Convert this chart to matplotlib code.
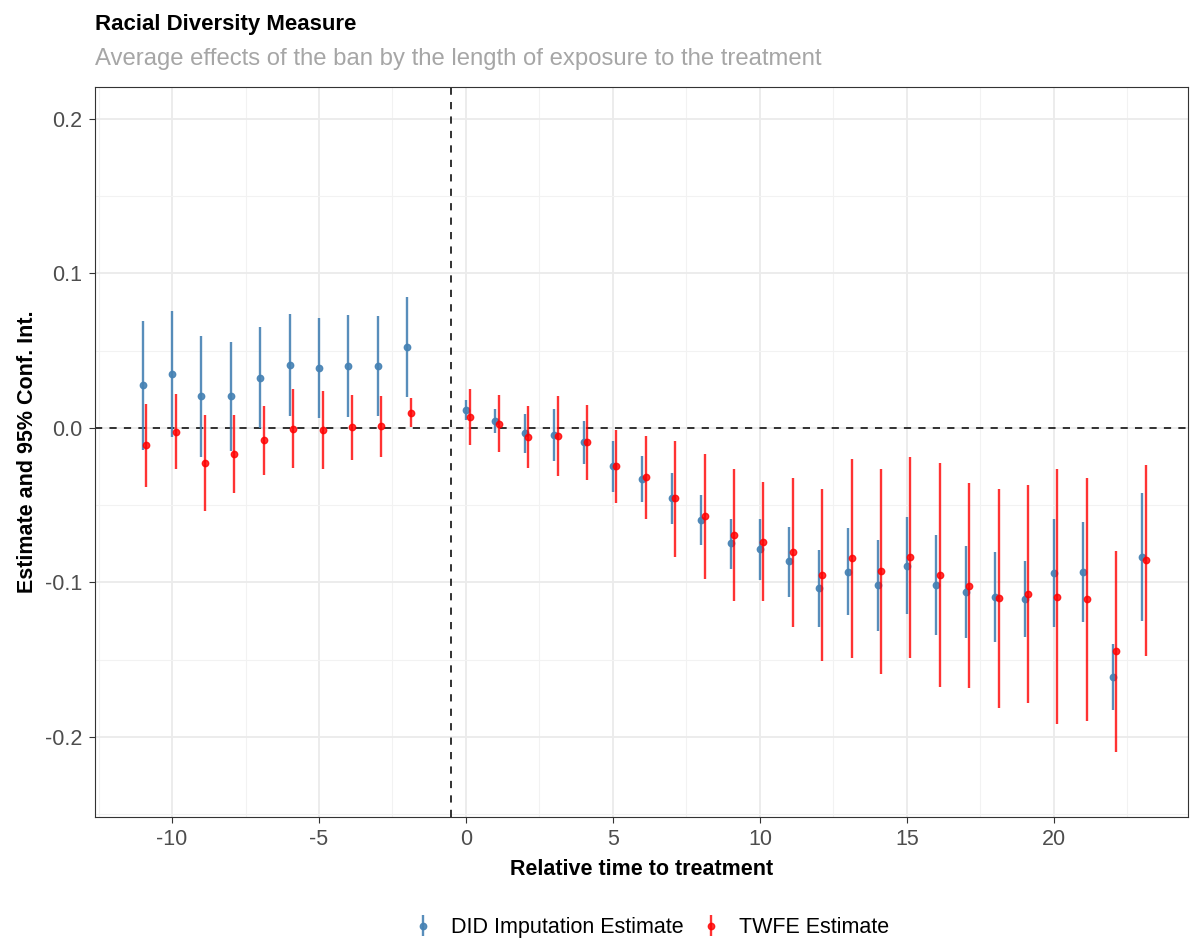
import matplotlib.pyplot as plt
from matplotlib.ticker import FixedLocator, FuncFormatter

plt.rcParams["font.family"] = ["Liberation Sans", "DejaVu Sans"]

rel_time = [-11, -10, -9, -8, -7, -6, -5, -4, -3, -2,
            0, 1, 2, 3, 4, 5, 6, 7, 8, 9, 10, 11,
            12, 13, 14, 15, 16, 17, 18, 19, 20, 21, 22, 23]

# DID imputation estimate
did_est = [0.0276, 0.0350, 0.0207, 0.0207, 0.0326, 0.0408, 0.0388, 0.0401, 0.0401, 0.0526,
           0.0117, 0.0047, -0.0034, -0.0047, -0.0093, -0.0248, -0.0328, -0.0455, -0.0598,
           -0.0747, -0.0785, -0.0863, -0.1038, -0.0930, -0.1016, -0.0891, -0.1016, -0.1059,
           -0.1092, -0.1105, -0.0936, -0.0932, -0.1612, -0.0835]
did_hi = [0.0695, 0.0759, 0.0595, 0.0557, 0.0656, 0.0736, 0.0712, 0.0731, 0.0725, 0.0850,
          0.0181, 0.0121, 0.0089, 0.0121, 0.0047, -0.0082, -0.0183, -0.0289, -0.0436,
          -0.0587, -0.0587, -0.0639, -0.0790, -0.0649, -0.0725, -0.0578, -0.0693, -0.0762,
          -0.0800, -0.0861, -0.0591, -0.0610, -0.1398, -0.0419]
did_lo = [-0.0142, -0.0060, -0.0186, -0.0147, -0.0002, 0.0078, 0.0063, 0.0073, 0.0078, 0.0203,
          0.0052, -0.0030, -0.0160, -0.0212, -0.0235, -0.0416, -0.0477, -0.0624, -0.0757,
          -0.0913, -0.0984, -0.1092, -0.1290, -0.1210, -0.1312, -0.1204, -0.1340, -0.1361,
          -0.1383, -0.1353, -0.1286, -0.1256, -0.1825, -0.1251]

# TWFE estimate
twfe_est = [-0.0112, -0.0024, -0.0229, -0.0168, -0.0080, -0.0004, -0.0010, 0.0006, 0.0011, 0.0099,
            0.0071, 0.0028, -0.0058, -0.0052, -0.0093, -0.0248, -0.0319, -0.0455, -0.0570,
            -0.0690, -0.0736, -0.0803, -0.0951, -0.0843, -0.0928, -0.0837, -0.0951, -0.1021,
            -0.1102, -0.1073, -0.1092, -0.1109, -0.1443, -0.0857]
twfe_hi = [0.0155, 0.0218, 0.0084, 0.0084, 0.0142, 0.0250, 0.0241, 0.0214, 0.0207, 0.0192,
           0.0250, 0.0214, 0.0142, 0.0207, 0.0151, -0.0013, -0.0052, -0.0086, -0.0170,
           -0.0263, -0.0352, -0.0321, -0.0395, -0.0203, -0.0265, -0.0190, -0.0224, -0.0354,
           -0.0397, -0.0369, -0.0265, -0.0326, -0.0796, -0.0239]
twfe_lo = [-0.0380, -0.0265, -0.0537, -0.0419, -0.0302, -0.0261, -0.0265, -0.0207, -0.0186, 0.0009,
           -0.0110, -0.0155, -0.0259, -0.0311, -0.0337, -0.0483, -0.0591, -0.0833, -0.0975,
           -0.1120, -0.1120, -0.1286, -0.1510, -0.1490, -0.1592, -0.1489, -0.1674, -0.1683,
           -0.1812, -0.1778, -0.1916, -0.1894, -0.2095, -0.1476]

dodge = 0.12

fig = plt.figure(figsize=(11.92, 9.39), dpi=100)
ax = fig.add_axes([0.0797, 0.13, 0.9169, 0.7773])

did_err = [[e - l for e, l in zip(did_est, did_lo)], [h - e for e, h in zip(did_est, did_hi)]]
twfe_err = [[e - l for e, l in zip(twfe_est, twfe_lo)], [h - e for e, h in zip(twfe_est, twfe_hi)]]

h1 = ax.errorbar(rel_time, did_est, yerr=did_err, fmt="o", color="steelblue",
                 ecolor="steelblue", elinewidth=1.7, markersize=4.6, capsize=0,
                 alpha=0.9, zorder=3, label="DID Imputation Estimate")
h2 = ax.errorbar([t + dodge for t in rel_time], twfe_est, yerr=twfe_err, fmt="o",
                 color="#ff0000", ecolor="#ff0000", elinewidth=1.7, markersize=4.6,
                 capsize=0, alpha=0.8, zorder=4, label="TWFE Estimate")

ax.axhline(0, color="#222222", linestyle=(0, (4, 4)), linewidth=1.3, zorder=2)
ax.axvline(-0.5, color="#222222", linestyle=(0, (4, 4)), linewidth=1.3, zorder=2)

ax.set_xlim(-12.62, 24.56)
ax.set_ylim(-0.2518, 0.2207)

ax.xaxis.set_major_locator(FixedLocator([-10, -5, 0, 5, 10, 15, 20]))
ax.xaxis.set_minor_locator(FixedLocator([-12.5, -7.5, -2.5, 2.5, 7.5, 12.5, 17.5, 22.5]))
ax.yaxis.set_major_locator(FixedLocator([-0.2, -0.1, 0.0, 0.1, 0.2]))
ax.yaxis.set_minor_locator(FixedLocator([-0.25, -0.15, -0.05, 0.05, 0.15]))
ax.yaxis.set_major_formatter(FuncFormatter(lambda v, p: f"{v:.1f}"))
ax.xaxis.set_major_formatter(FuncFormatter(lambda v, p: f"{int(round(v))}"))

ax.grid(True, which="major", color="#ebebeb", linewidth=1.3, zorder=0)
ax.grid(True, which="minor", color="#f2f2f2", linewidth=0.8, zorder=0)
ax.set_axisbelow(True)
ax.tick_params(which="major", length=4, color="#333333", labelsize=15.5,
               labelcolor="#4d4d4d", width=0.8, pad=5)
ax.tick_params(which="minor", length=0)
for s in ax.spines.values():
    s.set_color("#333333")
    s.set_linewidth(0.8)

ax.set_xlabel("Relative time to treatment", fontsize=15.5, fontweight="bold", labelpad=6)
ax.set_ylabel("Estimate and 95% Conf. Int.", fontsize=15.5, fontweight="bold", labelpad=5)

fig.text(0.0797, 0.968, "Racial Diversity Measure", fontsize=16, fontweight="bold",
         ha="left", va="baseline")
fig.text(0.0797, 0.9305, "Average effects of the ban by the length of exposure to the treatment",
         fontsize=17.2, color="#a6a6a6", ha="left", va="baseline")

fig.legend(handles=[h1, h2], loc="center", bbox_to_anchor=(0.545, 0.012), ncol=2,
           frameon=False, fontsize=15.5, handlelength=1.2, columnspacing=0.7,
           handletextpad=0.7)

fig.savefig("out.png", dpi=100)
